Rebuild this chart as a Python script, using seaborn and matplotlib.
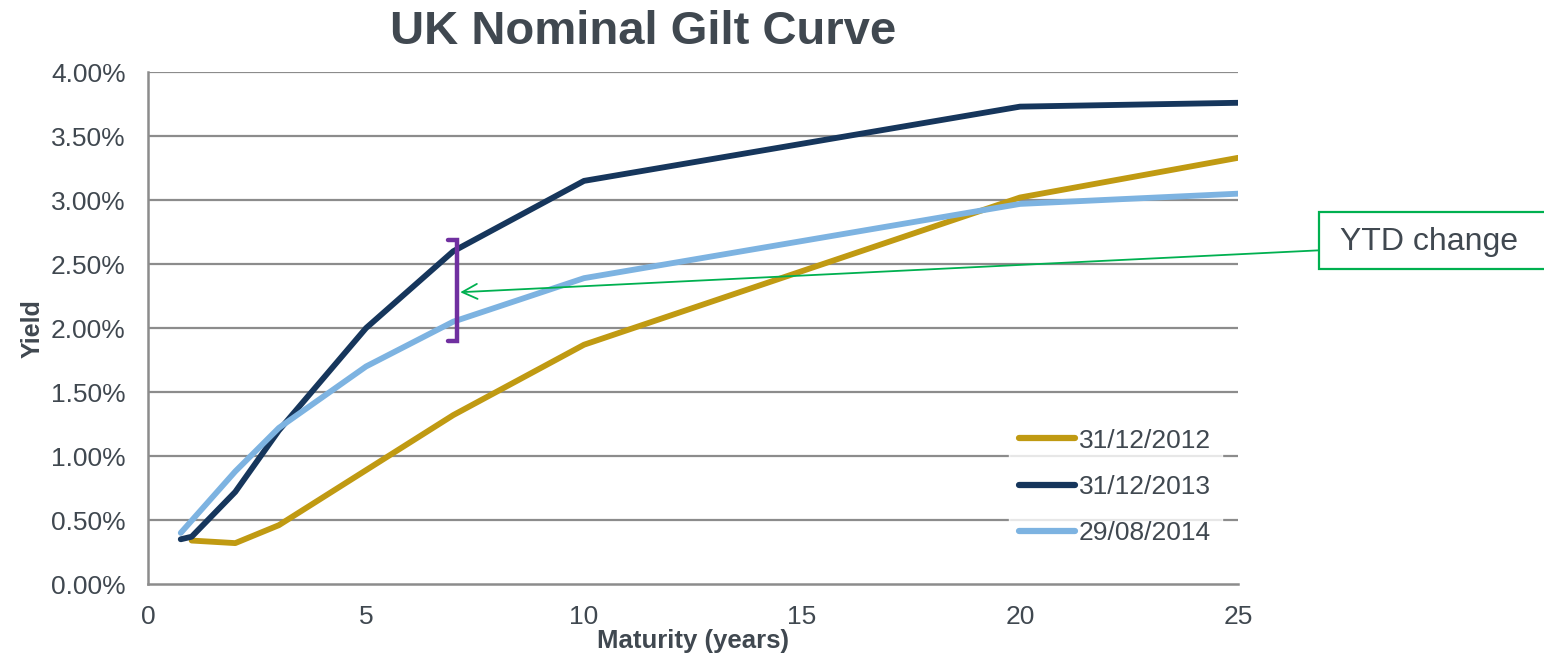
import matplotlib
matplotlib.use("Agg")
import matplotlib.pyplot as plt
from matplotlib.patches import Rectangle
import seaborn as sns
import pandas as pd

# Gilt yields (%) by maturity (years)
mat_2012 = [1, 2, 3, 5, 7, 10, 20, 25]
yld_2012 = [0.34, 0.32, 0.46, 0.89, 1.32, 1.87, 3.02, 3.33]

mat_2013 = [0.75, 1, 2, 3, 5, 7, 10, 20, 25]
yld_2013 = [0.35, 0.37, 0.72, 1.20, 2.00, 2.60, 3.15, 3.73, 3.76]

mat_2014 = [0.75, 2, 3, 5, 7, 10, 20, 25]
yld_2014 = [0.40, 0.88, 1.22, 1.70, 2.05, 2.39, 2.97, 3.05]

dates = ["31/12/2012", "31/12/2013", "29/08/2014"]
colors = ["#C09A12", "#16365C", "#7DB3E1"]

x_ticks = [0, 5, 10, 15, 20, 25]
y_ticks = [0.0, 0.5, 1.0, 1.5, 2.0, 2.5, 3.0, 3.5, 4.0]

# YTD change bracket at the 7-year point
bracket_x = 7.09
bracket_lo, bracket_hi = 1.90, 2.69
arrow_tip = (7.16, 2.28)

frames = []
for d, m, y in zip(dates, [mat_2012, mat_2013, mat_2014], [yld_2012, yld_2013, yld_2014]):
    frames.append(pd.DataFrame({"Maturity": m, "Yield": y, "Date": d}))
df = pd.concat(frames, ignore_index=True)

sns.set_theme(style="white")
plt.rcParams["font.family"] = ["Liberation Sans", "DejaVu Sans"]
text_col = "#404850"
grid_col = "#8C8C8C"

fig = plt.figure(figsize=(15.44, 6.57), dpi=100)
ax = fig.add_axes([0.0959, 0.111, 0.7059, 0.7793])

for y in y_ticks[1:]:
    ax.axhline(y, color=grid_col, lw=1.6, zorder=0)

sns.lineplot(data=df, x="Maturity", y="Yield", hue="Date", hue_order=dates,
             palette=colors, sort=False, estimator=None, lw=4.2,
             ax=ax, zorder=3)
for ln in ax.get_lines():
    ln.set_solid_capstyle("round")

ax.set_xlim(0, 25)
ax.set_ylim(0, 4.0)
ax.set_xticks(x_ticks)
ax.set_xticklabels([str(t) for t in x_ticks])
ax.set_yticks(y_ticks)
ax.set_yticklabels([f"{t:.2f}%" for t in y_ticks])
ax.tick_params(axis="both", which="both", length=7, width=1.6, color=grid_col,
               labelsize=19, labelcolor=text_col, direction="out")
ax.tick_params(axis="y", pad=9)
ax.tick_params(axis="x", pad=8)
for side in ["top", "right"]:
    ax.spines[side].set_visible(False)
for side in ["left", "bottom"]:
    ax.spines[side].set_color(grid_col)
    ax.spines[side].set_linewidth(1.8)

ax.set_xlabel("Maturity (years)", fontsize=18.5, fontweight="bold", color=text_col, labelpad=0)
ax.set_ylabel("Yield", fontsize=18, fontweight="bold", color=text_col, labelpad=5)

leg = ax.legend(loc="lower right", bbox_to_anchor=(0.997, 0.029), frameon=True,
                fontsize=19, handlelength=2.1, handletextpad=0.15,
                labelspacing=0.85, borderpad=0.4)
leg.get_frame().set_facecolor("white")
leg.get_frame().set_edgecolor("white")
for t in leg.get_texts():
    t.set_color(text_col)
for h in leg.get_lines():
    h.set_linewidth(4.5)
    h.set_solid_capstyle("round")

# Bracket marking the 7-year change
purple = "#7030A0"
ax.plot([bracket_x - 0.2, bracket_x, bracket_x, bracket_x - 0.2],
        [bracket_hi, bracket_hi, bracket_lo, bracket_lo],
        color=purple, lw=3.2, solid_joinstyle="miter", zorder=5)

# Callout box with arrow
green = "#00B050"
box = Rectangle((0.8545, 0.591), 0.16, 0.087, transform=fig.transFigure,
                facecolor="white", edgecolor=green, lw=1.6, zorder=6)
fig.patches.append(box)
fig.text(0.868, 0.632, "YTD change", fontsize=23, color=text_col,
         va="center", ha="left", zorder=8)
ax.annotate("", xy=arrow_tip, xycoords="data",
            xytext=(0.8545, 0.619), textcoords="figure fraction",
            arrowprops=dict(arrowstyle="->,head_length=0.9,head_width=0.45",
                            color=green, lw=1.3, shrinkA=0, shrinkB=0),
            annotation_clip=False, zorder=6)

fig.text(0.4165, 0.951, "UK Nominal Gilt Curve", fontsize=34, fontweight="bold",
         color=text_col, ha="center", va="center")

fig.savefig("out.png", dpi=100, facecolor="white")
